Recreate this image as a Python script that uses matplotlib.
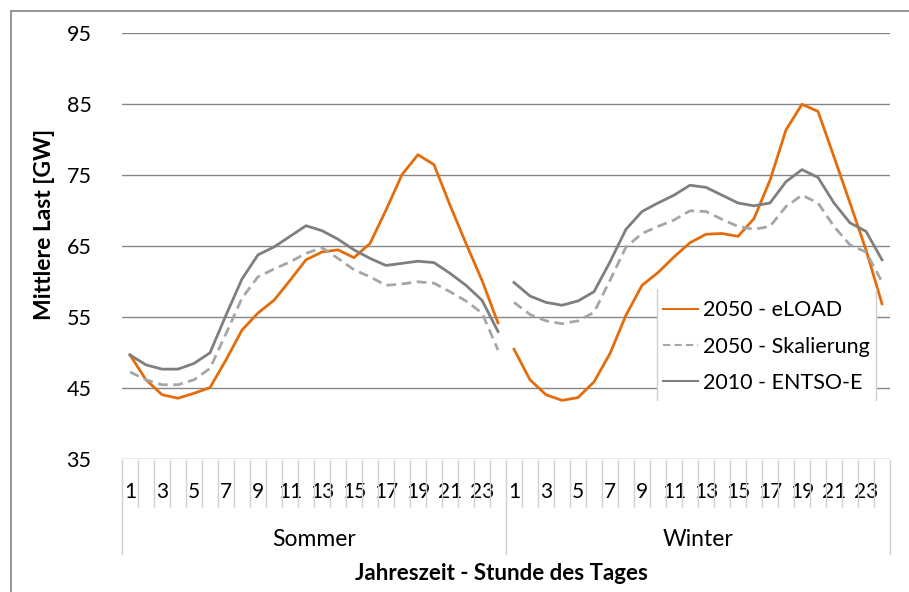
import numpy as np
import matplotlib.pyplot as plt
from matplotlib.patches import Rectangle
from matplotlib.lines import Line2D

plt.rcParams['font.family'] = ['Lato', 'DejaVu Sans']

# Stunden 1..24, Sommer und Winter
stunden = list(range(1, 25))
jahreszeiten = ['Sommer', 'Winter']

eload_sommer = [49.7, 46.2, 44.1, 43.6, 44.3, 45.1, 49.0, 53.2, 55.6, 57.4, 60.2, 63.1,
                64.2, 64.5, 63.4, 65.4, 70.1, 75.1, 77.9, 76.5, 70.8, 65.4, 60.2, 54.2]
eload_winter = [50.5, 46.2, 44.1, 43.3, 43.7, 45.9, 49.9, 55.3, 59.5, 61.3, 63.5, 65.5,
                66.7, 66.8, 66.4, 68.9, 74.3, 81.4, 85.0, 84.0, 77.6, 71.1, 64.5, 56.9]
skal_sommer = [47.3, 46.2, 45.5, 45.5, 46.2, 47.8, 52.7, 57.7, 60.7, 61.8, 62.8, 64.0,
               64.8, 63.3, 61.7, 60.7, 59.5, 59.7, 60.0, 59.8, 58.6, 57.3, 55.6, 50.4]
skal_winter = [57.1, 55.4, 54.5, 54.1, 54.5, 55.7, 60.2, 64.9, 66.8, 67.8, 68.7, 70.0,
               69.9, 68.8, 67.8, 67.4, 67.8, 70.6, 72.2, 71.1, 67.8, 65.2, 64.2, 60.0]
entsoe_sommer = [49.7, 48.3, 47.7, 47.7, 48.5, 50.0, 55.3, 60.4, 63.8, 64.9, 66.4, 67.9,
                 67.2, 66.0, 64.5, 63.3, 62.3, 62.6, 62.9, 62.7, 61.2, 59.5, 57.4, 53.0]
entsoe_winter = [59.9, 58.0, 57.1, 56.7, 57.3, 58.6, 62.8, 67.4, 69.9, 71.1, 72.2, 73.6,
                 73.3, 72.2, 71.1, 70.7, 71.1, 74.1, 75.8, 74.7, 71.1, 68.3, 67.1, 63.1]

W, H = 909, 592
fig = plt.figure(figsize=(W / 100, H / 100), dpi=100)
ax_l, ax_r, ax_t, ax_b = 122, 890, 33.3, 459.3
ax = fig.add_axes([ax_l / W, 1 - ax_b / H, (ax_r - ax_l) / W, (ax_b - ax_t) / H])

# Rahmen um das Diagramm (nur links/oben sichtbar)
fig.patches.append(Rectangle((11 / W, -0.1), 1.2, 1 - 11 / H + 0.1, transform=fig.transFigure,
                             fill=False, edgecolor='#8c8c8c', linewidth=1.3))

n = len(stunden)
x_s = np.arange(n)
x_w = np.arange(n) + n

orange = '#E46C0A'
grau = '#7f7f7f'
hellgrau = '#a6a6a6'

ax.plot(x_s, eload_sommer, color=orange, lw=2, label='2050 - eLOAD')
ax.plot(x_w, eload_winter, color=orange, lw=2)
ax.plot(x_s, skal_sommer, color=hellgrau, lw=2, ls=(0, (3.5, 2)), label='2050 - Skalierung')
ax.plot(x_w, skal_winter, color=hellgrau, lw=2, ls=(0, (3.5, 2)))
ax.plot(x_s, entsoe_sommer, color=grau, lw=2, label='2010 - ENTSO-E')
ax.plot(x_w, entsoe_winter, color=grau, lw=2)

ax.set_xlim(-0.5, 2 * n - 0.5)
ax.set_ylim(35, 95)
ax.set_yticks(range(35, 96, 10))
ax.yaxis.grid(True, color='#868686', lw=1)
ax.set_axisbelow(True)
for s in ax.spines.values():
    s.set_visible(False)
ax.tick_params(axis='y', length=0, pad=22, labelsize=15.5)

# x-Achse: Stunden
ticks = [i for i in range(2 * n) if (i % n) % 2 == 0]
ax.set_xticks(ticks)
ax.set_xticklabels([str(stunden[i % n]) for i in ticks])
ax.tick_params(axis='x', length=0, pad=16, labelsize=15)

def ay(px):
    return (ax_b - px) / (ax_b - ax_t)

trans = ax.get_xaxis_transform()
for k in range(2 * n + 1):
    unten = 554 if k % n == 0 else 507
    ax.add_line(Line2D([k - 0.5, k - 0.5], [ay(460), ay(unten)], transform=trans,
                       color='#d0d0d0', lw=1, clip_on=False))

for j, name in enumerate(jahreszeiten):
    ax.text(j * n + n / 2 - 0.5, ay(539), name, transform=trans, ha='center', va='center',
            fontsize=16.5)

fig.text((ax_l + ax_r) / 2 / W - 0.005, 1 - 573 / H, 'Jahreszeit - Stunde des Tages',
         ha='center', va='center', fontsize=16, fontweight='bold')
fig.text(45 / W, 1 - 224 / H, 'Mittlere Last [GW]', rotation=90, ha='center', va='center',
         fontsize=16.5, fontweight='bold')

# Legende
lx0 = (657 - ax_l) / (ax_r - ax_l)
lx1 = (876 - ax_l) / (ax_r - ax_l)
leg = ax.legend(loc='upper left', bbox_to_anchor=(lx0, ay(298), lx1 - lx0, 0.01), mode='expand',
                borderaxespad=0, frameon=True, fancybox=False, fontsize=15.5, handlelength=1.6,
                handletextpad=0.25, labelspacing=0.76, borderpad=0.3)
leg.get_frame().set_facecolor('white')
leg.get_frame().set_edgecolor('none')
leg.get_frame().set_alpha(1)
for line in leg.get_lines():
    line.set_linewidth(1.5)
for xx in (lx0, lx1):
    ax.add_line(Line2D([xx, xx], [ay(289), ay(400)], transform=ax.transAxes,
                       color='#d0d0d0', lw=1, clip_on=False, zorder=6))

fig.savefig('out.png', dpi=100)
